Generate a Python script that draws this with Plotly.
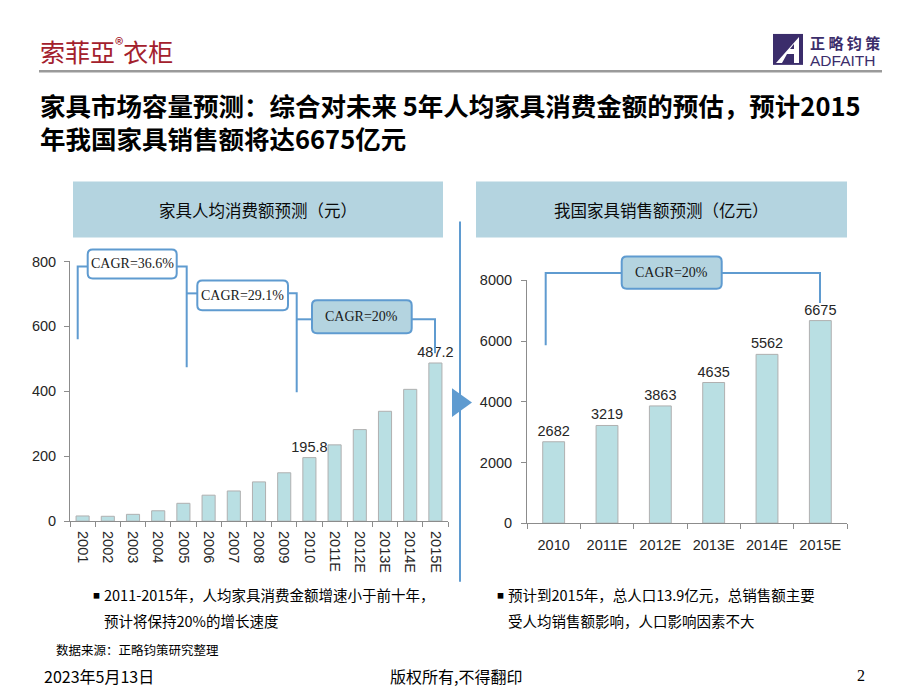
import plotly.graph_objects as go

# ---------------- data ----------------
years_left = ["2001", "2002", "2003", "2004", "2005", "2006", "2007", "2008",
              "2009", "2010", "2011E", "2012E", "2013E", "2014E", "2015E"]
per_capita = [16, 15, 21, 32, 55, 80, 93, 121, 149, 195.8, 235, 282, 338.4, 406, 487.2]
labelled_left = ["2010", "2015E"]

years_right = ["2010", "2011E", "2012E", "2013E", "2014E", "2015E"]
sales = [2682, 3219, 3863, 4635, 5562, 6675]

left_ticks = [0, 200, 400, 600, 800]
right_ticks = [0, 2000, 4000, 6000, 8000]

cagr_labels = ["CAGR=36.6%", "CAGR=29.1%", "CAGR=20%"]
cagr_right = "CAGR=20%"

W, H = 920, 690
# the photographed page maps layout rows onto ~676 px starting ~6 px down;
# positions below are given in target-picture pixels and converted here
PH_TOP, PH_H = 6.0, 675.5
CJK = "Noto Sans CJK SC"
SANS = "Liberation Sans, Arial"
SERIF = "Liberation Serif, Times New Roman"
BAR = "#b9dfe3"
BAR_EDGE = "#b0b0b0"
AXIS = "#8c8c8c"
BLUE = "#5f9bd0"
HEAD = "#b4d4e0"


def X(px):
    return px / W


def Y(py):
    return 1 - (py - PH_TOP) / PH_H


def path_px(pts, close=False):
    s = ""
    for i, (x, y) in enumerate(pts):
        s += ("M " if i == 0 else " L ") + f"{X(x):.5f},{Y(y):.5f}"
    if close:
        s += " Z"
    return s


def rrect_px(x0, y0, x1, y1, r):
    def p(x, y):
        return f"{X(x):.5f},{Y(y):.5f}"
    return (f"M {p(x0 + r, y0)} L {p(x1 - r, y0)} Q {p(x1, y0)} {p(x1, y0 + r)} "
            f"L {p(x1, y1 - r)} Q {p(x1, y1)} {p(x1 - r, y1)} L {p(x0 + r, y1)} "
            f"Q {p(x0, y1)} {p(x0, y1 - r)} L {p(x0, y0 + r)} Q {p(x0, y0)} {p(x0 + r, y0)} Z")


fig = go.Figure()

fig.add_trace(go.Bar(
    x=years_left, y=per_capita, xaxis="x", yaxis="y", width=0.52,
    marker=dict(color=BAR, line=dict(color=BAR_EDGE, width=1)),
    text=[f"{v:g}" if c in labelled_left else None for c, v in zip(years_left, per_capita)],
    textposition="outside", cliponaxis=False, constraintext="none",
    textfont=dict(family=SANS, size=14.5, color="#262626"),
    showlegend=False, hoverinfo="skip"))

fig.add_trace(go.Bar(
    x=years_right, y=sales, xaxis="x2", yaxis="y2", width=0.41,
    marker=dict(color=BAR, line=dict(color=BAR_EDGE, width=1)),
    text=[str(v) for v in sales],
    textposition="outside", cliponaxis=False, constraintext="none",
    textfont=dict(family=SANS, size=14.5, color="#262626"),
    showlegend=False, hoverinfo="skip"))

axis_common = dict(showgrid=False, zeroline=False, showline=True, linecolor=AXIS,
                   linewidth=1, ticks="outside", tickcolor=AXIS, ticklen=5,
                   tickfont=dict(family=SANS, size=14.5, color="#262626"))

fig.update_layout(
    width=W, height=H, margin=dict(l=0, r=0, t=0, b=0),
    paper_bgcolor="white", plot_bgcolor="rgba(0,0,0,0)",
    xaxis=dict(domain=[X(70), X(448)], anchor="y", type="category",
               tickson="boundaries", tickangle=90, ticklabelstandoff=6, **axis_common),
    yaxis=dict(domain=[Y(520.3), Y(260)], anchor="x", range=[0, 800],
               tickvals=left_ticks, ticklabelstandoff=5, **axis_common),
    xaxis2=dict(domain=[X(527), X(847)], anchor="y2", type="category",
                tickson="boundaries", tickangle=0, ticklabelstandoff=8, **axis_common),
    yaxis2=dict(domain=[Y(522.3), Y(279)], anchor="x2", range=[0, 8000],
                tickvals=right_ticks, ticklabelstandoff=6, **axis_common),
)

shapes = []
annotations = []

# top logo underline
shapes.append(dict(type="line", xref="paper", yref="paper",
                   x0=X(39), x1=X(882), y0=Y(69.5), y1=Y(69.5),
                   line=dict(color="#9a9a9a", width=2.5)))
# right logo square
shapes.append(dict(type="rect", xref="paper", yref="paper",
                   x0=X(773), x1=X(803), y0=Y(63), y1=Y(32),
                   fillcolor="#3b2d6b", line=dict(width=0)))
shapes.append(dict(type="path", xref="paper", yref="paper",
                   path=path_px([(776, 61), (799, 35), (799, 61), (794, 61), (794, 52),
                                 (787, 52), (782, 61)], close=True),
                   fillcolor="white", line=dict(width=0)))
shapes.append(dict(type="path", xref="paper", yref="paper",
                   path=path_px([(794, 47), (794, 42), (790, 47)], close=True),
                   fillcolor="#3b2d6b", line=dict(width=0)))

# header boxes
for x0, x1 in [(73, 443), (476, 847)]:
    shapes.append(dict(type="rect", xref="paper", yref="paper",
                       x0=X(x0), x1=X(x1), y0=Y(236), y1=Y(180),
                       fillcolor=HEAD, line=dict(width=0)))

# divider and arrow
shapes.append(dict(type="line", xref="paper", yref="paper",
                   x0=X(460), x1=X(460), y0=Y(220), y1=Y(581),
                   line=dict(color=BLUE, width=2)))
shapes.append(dict(type="path", xref="paper", yref="paper",
                   path=path_px([(452, 387), (472, 401.5), (452, 416)], close=True),
                   fillcolor=BLUE, line=dict(width=0)))

# CAGR brackets (pixel geometry)
line_style = dict(color=BLUE, width=2)
brackets_left = [
    ([(77.7, 338), (77.7, 265), (87.7, 265)], (87.7, 248, 176.7, 277),
     [(176.7, 265), (186.7, 265), (186.7, 366)], "white"),
    ([(186.7, 292), (197.3, 292)], (197.3, 279, 288, 309),
     [(288, 292), (296.7, 292), (296.7, 391)], "white"),
    ([(296.7, 318), (312, 318)], (312, 299, 411.7, 332),
     [(411.7, 318), (435, 318), (435, 352)], HEAD),
]
bracket_right = ([(545.7, 344), (545.7, 271.7), (621.7, 271.7)], (621.7, 255, 721.7, 287.3),
                 [(721.7, 271.7), (820, 271.7), (820, 301.7)], HEAD)

for (lpts, box, rpts, fill), label in list(zip(brackets_left, cagr_labels)) + [(bracket_right, cagr_right)]:
    shapes.append(dict(type="path", xref="paper", yref="paper", path=path_px(lpts), line=line_style))
    shapes.append(dict(type="path", xref="paper", yref="paper", path=path_px(rpts), line=line_style))
    bx0, by0, bx1, by1 = box
    shapes.append(dict(type="path", xref="paper", yref="paper",
                       path=rrect_px(bx0, by0, bx1, by1, 5), fillcolor=fill, line=line_style))
    annotations.append(dict(xref="paper", yref="paper", x=X((bx0 + bx1) / 2), y=Y((by0 + by1) / 2),
                            text=label, showarrow=False, xanchor="center", yanchor="middle",
                            font=dict(family=SERIF, size=14, color="#1a1a1a")))


def txt(x, y, s, size, family=CJK, color="#000000", xanchor="left", bold=False, yanchor="middle"):
    annotations.append(dict(xref="paper", yref="paper", x=X(x), y=Y(y), text=s,
                            showarrow=False, xanchor=xanchor, yanchor=yanchor, align="left",
                            font=dict(family=family, size=size, color=color,
                                      weight="bold" if bold else "normal")))


# logos
txt(38, 48, "索菲亞<sup>®</sup>衣柜", 25, color="#a3202c")
txt(808, 41, "正 略 钧 策", 15, color="#3b2d6b", bold=True)
txt(808, 59, "ADFAITH", 15.5, family=SANS, color="#3b2d6b")

# title
txt(38, 119, "家具市场容量预测：综合对未来 5年人均家具消费金额的预估，预计2015<br>"
    "年我国家具销售额将达6675亿元", 25.5, bold=True)

# headers
txt(258, 208, "家具人均消费额预测（元）", 16.5, xanchor="center", color="#0a0a0a")
txt(661, 208, "我国家具销售额预测（亿元）", 16.5, xanchor="center", color="#0a0a0a")

# notes
txt(91, 594, "■", 7)
txt(102, 594, "2011-2015年，人均家具消费金额增速小于前十年，", 14.5)
txt(102, 620, "预计将保持20%的增长速度", 14.5)
txt(495, 594, "■", 7)
txt(506, 594, "预计到2015年，总人口13.9亿元，总销售额主要", 14.5)
txt(506, 620, "受人均销售额影响，人口影响因素不大", 14.5)
txt(54, 649, "数据来源：正略钧策研究整理", 12.5)

# footer
txt(42, 675, "2023年5月13日", 16)
txt(456, 675, "版权所有,不得翻印", 16, xanchor="center")
txt(855, 675, "2", 16, family=SERIF)

fig.update_layout(shapes=shapes, annotations=annotations)

post = ("var gd=document.getElementById('{plot_id}');"
        "var h=document.documentElement, b=document.body;"
        "h.style.margin='0';h.style.padding='0';h.style.overflow='hidden';h.style.height='690px';"
        "b.style.margin='0';b.style.padding='0';b.style.overflow='hidden';b.style.height='690px';"
        "gd.style.position='absolute';gd.style.left='0px';gd.style.top='0px';")
fig.write_html("out.html", config={"displayModeBar": False}, post_script=post)
